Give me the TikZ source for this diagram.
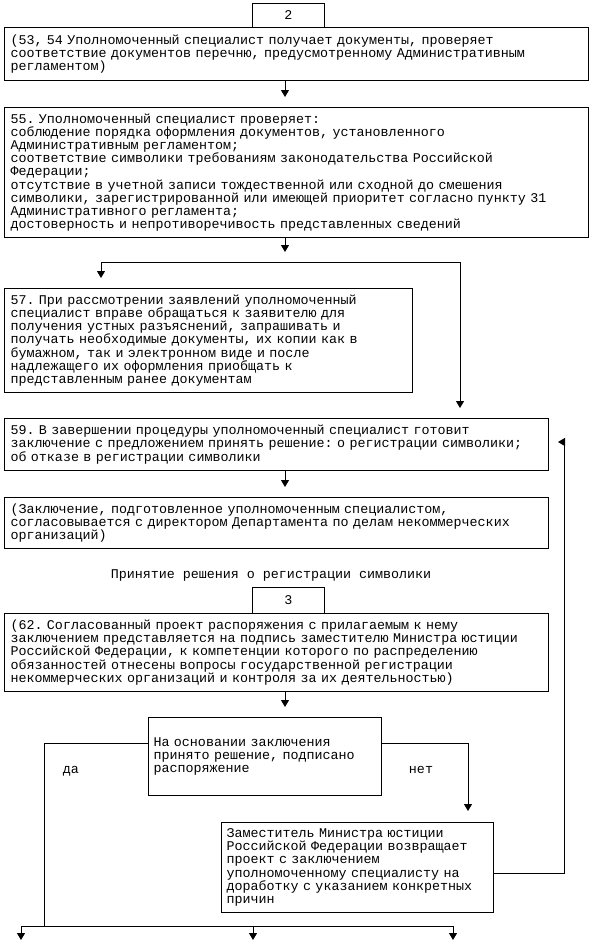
\documentclass[tikz,border=0pt]{standalone}
\usepackage{fontspec}
\newfontfamily\monofnt[WordSpace={1,0,0}]{Liberation Mono}
\usetikzlibrary{arrows.meta}
\newcommand{\txt}{\monofnt\fontsize{13.35}{13.2}\selectfont\frenchspacing}
\tikzset{
  box/.style={draw, line width=1pt, anchor=north west, align=left, inner xsep=6pt, inner ysep=0pt, font=\txt},
  numbox/.style={draw, line width=1pt, anchor=north west, inner sep=0pt, minimum width=72pt, font=\txt},
  lab/.style={font=\txt, inner sep=0pt},
  ln/.style={line width=1pt},
  arr/.style={line width=1pt, -{Triangle[width=8pt,length=7pt]}},
}
\begin{document}
\begin{tikzpicture}[x=1pt,y=1pt]
\useasboundingbox (0,0) rectangle (602,-945);
\fill[white] (0,0) rectangle (602,-945);

\node[numbox, minimum height=24pt] (n2) at (252,-3) {2};
\node[box, text width=572pt, minimum height=53pt] (A) at (4,-27) {(53, 54 Уполномоченный специалист получает документы, проверяет\\соответствие документов перечню, предусмотренному Административным\\регламентом)};
\node[box, text width=572pt, minimum height=130pt] (B) at (4,-107) {55. Уполномоченный специалист проверяет:\\соблюдение порядка оформления документов, установленного\\Административным регламентом;\\соответствие символики требованиям законодательства Российской\\Федерации;\\отсутствие в учетной записи тождественной или сходной до смешения\\символики, зарегистрированной или имеющей приоритет согласно пункту 31\\Административного регламента;\\достоверность и непротиворечивость представленных сведений};
\node[box, text width=396pt, minimum height=104pt] (C) at (4,-288) {57. При рассмотрении заявлений уполномоченный\\специалист вправе обращаться к заявителю для\\получения устных разъяснений, запрашивать и\\получать необходимые документы, их копии как в\\бумажном, так и электронном виде и после\\надлежащего их оформления приобщать к\\представленным ранее документам};
\node[box, text width=532pt, minimum height=52pt] (D) at (4,-418) {59. В завершении процедуры уполномоченный специалист готовит\\заключение с предложением принять решение: о регистрации символики;\\об отказе в регистрации символики};
\node[box, text width=532pt, minimum height=51pt] (E) at (4,-497) {(Заключение, подготовленное уполномоченным специалистом,\\согласовывается с директором Департамента по делам некоммерческих\\организаций)};
\node[lab] (L) at (271,-575) {Принятие решения о регистрации символики};
\node[numbox, minimum height=26pt] (n3) at (252,-587) {3};
\node[box, text width=532pt, minimum height=78pt] (F) at (4,-613) {(62. Согласованный проект распоряжения с прилагаемым к нему\\заключением представляется на подпись заместителю Министра юстиции\\Российской Федерации, к компетенции которого по распределению\\обязанностей отнесены вопросы государственной регистрации\\некоммерческих организаций и контроля за их деятельностью)};
\node[box, inner xsep=5pt, text width=223pt, minimum height=78pt] (G) at (148,-717) {На основании заключения\\принято решение, подписано\\распоряжение};
\node[box, inner xsep=5pt, text width=262pt, minimum height=90pt] (H) at (221,-822) {Заместитель Министра юстиции\\Российской Федерации возвращает\\проект с заключением\\уполномоченному специалисту на\\доработку с указанием конкретных\\причин};
\node[lab] (da) at (71,-771) {да};
\node[lab] (net) at (421,-770) {нет};

\coordinate (cx) at (285,0);
\coordinate (split) at (285,-262);
\coordinate (sl) at (101,-262);
\coordinate (sr) at (460,-262);
\coordinate (ya) at (0,-743);
\coordinate (bl) at (44,-926);
\coordinate (b1) at (21,-926);
\coordinate (b2) at (253,-926);
\coordinate (b3) at (453,-926);
\coordinate (bot) at (0,-940);
\coordinate (nx) at (468,0);
\coordinate (yr) at (0,-873);
\coordinate (rx) at (564,0);
\coordinate (yd) at (0,-442);

\draw[arr, shorten >=10pt] (A.south -| cx) -- (B.north -| cx);
\draw[arr, shorten >=10pt] (B.south -| cx) -- (split);
\draw[ln] (sl) -- (sr);
\draw[arr, shorten >=10pt] (sl) -- (C.north -| sl);
\draw[arr, shorten >=10pt] (sr) -- (D.north -| sr);
\draw[arr, shorten >=10pt] (D.south -| cx) -- (E.north -| cx);
\draw[arr, shorten >=10pt] (F.south -| cx) -- (G.north -| cx);
\draw[ln] (G.west |- ya) -| (bl);
\draw[ln] (b1) -- (b3);
\draw[arr] (b1) -- (b1 |- bot);
\draw[arr] (b2) -- (b2 |- bot);
\draw[arr] (b3) -- (b3 |- bot);
\draw[arr, shorten >=11pt] (G.east |- ya) -| (H.north -| nx);
\draw[arr, shorten >=9pt] (H.east |- yr) -| (rx |- yd) -- (D.east |- yd);
\end{tikzpicture}
\end{document}
